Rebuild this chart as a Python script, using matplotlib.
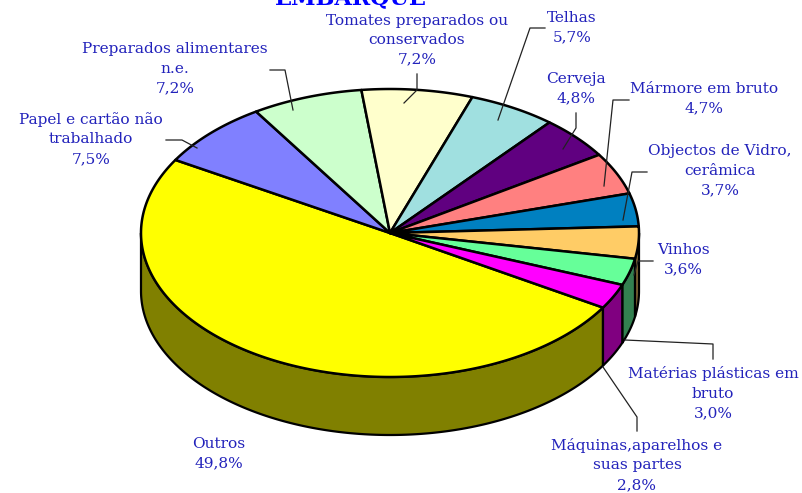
import numpy as np
import matplotlib
matplotlib.use("Agg")
import matplotlib.pyplot as plt
from matplotlib.patches import Polygon

labels = ['Outros', 'Papel e cartão não\ntrabalhado', 'Preparados alimentares\nn.e.',
          'Tomates preparados ou\nconservados', 'Telhas', 'Cerveja', 'Mármore em bruto',
          'Objectos de Vidro,\ncerâmica', 'Vinhos', 'Matérias plásticas em\nbruto',
          'Máquinas,aparelhos e\nsuas partes']
values = [49.8, 7.5, 7.2, 7.2, 5.7, 4.8, 4.7, 3.7, 3.6, 3.0, 2.8]
top_colors = ['#FFFF00', '#8080FF', '#CCFFCC', '#FFFFCC', '#A0E0E0', '#600080',
              '#FF8080', '#0080C0', '#FFCC66', '#66FF99', '#FF00FF']
side_colors = ['#808000', '#404080', '#668066', '#808066', '#507070', '#300040',
               '#804040', '#004060', '#806633', '#338050', '#800080']

# label centres, pixels
label_x = [219, 91, 175, 417, 572, 576, 704, 720, 683, 713, 637]
label_y = [454, 139, 69, 40, 28, 89, 99, 171, 260, 393, 465]

# leader lines, pixels
leaders = [
    [(417, 74), (417, 90), (404, 103)],
    [(270, 70), (285, 70), (293, 110)],
    [(545, 28), (530, 28), (498, 120)],
    [(576, 113), (576, 128), (563, 149)],
    [(629, 100), (613, 100), (604, 186)],
    [(647, 172), (632, 172), (623, 220)],
    [(653, 261), (638, 261), (634, 275)],
    [(713, 359), (713, 344), (625, 340)],
    [(637, 431), (637, 417), (603, 367)],
    [(166, 140), (182, 140), (197, 148)],
]

cx, cy, rx, ry = 390, 233, 249, 144
depth = 58
start_angle = 328.8
text_blue = '#2222BB'
font = 'DejaVu Serif'


def rim(a0, a1):
    t = np.radians(np.linspace(a0, a1, max(int(abs(a1 - a0)) * 2, 2)))
    return np.column_stack([cx + rx * np.cos(t), cy - ry * np.sin(t)])


fig = plt.figure(figsize=(8.02, 4.93), dpi=100)
ax = fig.add_axes([0, 0, 1, 1])
ax.set_xlim(0, 802)
ax.set_ylim(493, 0)
ax.axis('off')

# slices run clockwise, angle goes down
angles = []
a = start_angle
for v in values:
    angles.append((a, a - v * 3.6))
    a -= v * 3.6

# side walls: only the front half shows
for (a0, a1), col in zip(angles, side_colors):
    for lo, hi in [(180, 360), (-180, 0)]:
        s0, s1 = min(a0, hi), max(a1, lo)
        if s0 > s1:
            front = rim(s0, s1)
            wall = np.vstack([front, front[::-1] + [0, depth]])
            ax.add_patch(Polygon(wall, closed=True, fc=col, ec='black', lw=1.6, zorder=2))

# top faces
for (a0, a1), col in zip(angles, top_colors):
    pts = np.vstack([[cx, cy], rim(a0, a1)])
    ax.add_patch(Polygon(pts, closed=True, fc=col, ec='black', lw=1.8, joinstyle='round', zorder=3))

for pts in leaders:
    xs, ys = zip(*pts)
    ax.plot(xs, ys, color='#222222', lw=0.9, zorder=4)

for name, v, x, y in zip(labels, values, label_x, label_y):
    txt = name + '\n' + f'{v:.1f}'.replace('.', ',') + '%'
    ax.text(x, y, txt, ha='center', va='center', color=text_blue, fontsize=11.1,
            family=font, linespacing=1.5, zorder=5)

ax.text(351, 4, 'EMBARQUE', ha='center', va='baseline', color='#0000FF',
        fontsize=16, family=font, fontweight='bold', zorder=5)

fig.savefig('out.png', dpi=100)
